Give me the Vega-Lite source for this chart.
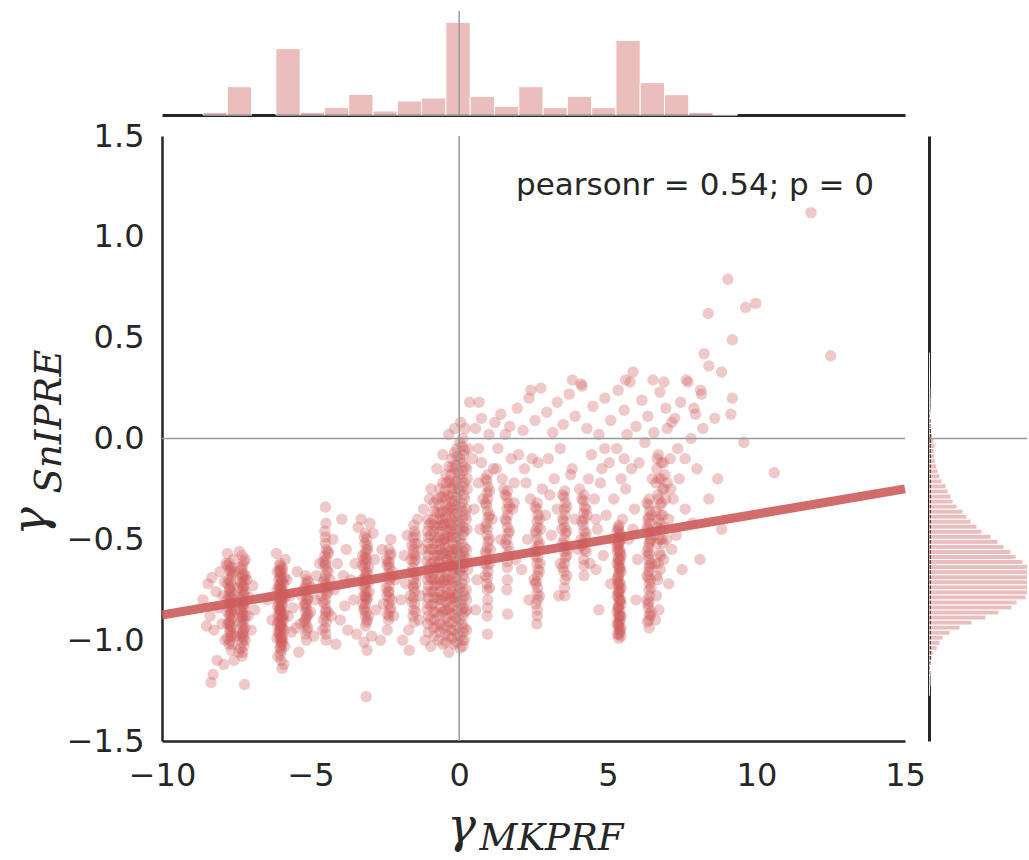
{
"$schema": "https://vega.github.io/schema/vega-lite/v6.json",
"background": "white",
"padding": {"left": 7, "top": 10, "right": 0, "bottom": 3},
"config": {
  "font": "DejaVu Sans",
  "view": {"stroke": null},
  "axis": {"grid": false, "ticks": false, "domainColor": "#262626", "domainWidth": 2.5, "labelColor": "#262626", "labelFont": "DejaVu Sans", "labelFontSize": 32, "labelFlush": false, "labelOverlap": false}
},
"title": {"text": "SnIPRE", "orient": "left", "anchor": "middle", "font": "DejaVu Serif", "fontStyle": "italic", "fontWeight": "normal", "fontSize": 37, "color": "#262626", "offset": -91, "baseline": "alphabetic", "dx": 12},
"columns": 2,
"spacing": {"row": 4, "column": 2},
"align": "each",
"datasets": {
  "ann": [{"label": "pearsonr = 0.54; p = 0"}],
  "fit": [{"mk": -10, "fit": -0.875}, {"mk": 15, "fit": -0.25}],
  "histx": [
    {"lo": -8.620, "hi": -7.803, "n": 8},
    {"lo": -7.803, "hi": -6.985, "n": 85},
    {"lo": -6.168, "hi": -5.351, "n": 199},
    {"lo": -5.351, "hi": -4.535, "n": 8},
    {"lo": -4.535, "hi": -3.717, "n": 22},
    {"lo": -3.717, "hi": -2.900, "n": 62},
    {"lo": -2.900, "hi": -2.083, "n": 12},
    {"lo": -2.083, "hi": -1.265, "n": 42},
    {"lo": -1.265, "hi": -0.448, "n": 51},
    {"lo": -0.448, "hi": 0.370, "n": 278},
    {"lo": 0.370, "hi": 1.187, "n": 56},
    {"lo": 1.187, "hi": 2.005, "n": 26},
    {"lo": 2.005, "hi": 2.822, "n": 85},
    {"lo": 2.822, "hi": 3.638, "n": 22},
    {"lo": 3.638, "hi": 4.456, "n": 56},
    {"lo": 4.456, "hi": 5.273, "n": 22},
    {"lo": 5.273, "hi": 6.090, "n": 224},
    {"lo": 6.090, "hi": 6.908, "n": 97},
    {"lo": 6.908, "hi": 7.725, "n": 61},
    {"lo": 7.725, "hi": 8.543, "n": 8},
    {"lo": 8.543, "hi": 9.361, "n": 1}
  ],
  "histy": [
    {"lo": -1.275, "hi": -1.250, "n": 3}, {"lo": -1.250, "hi": -1.225, "n": 5}, {"lo": -1.225, "hi": -1.200, "n": 10},
    {"lo": -1.200, "hi": -1.175, "n": 10}, {"lo": -1.175, "hi": -1.150, "n": 12}, {"lo": -1.150, "hi": -1.125, "n": 15},
    {"lo": -1.125, "hi": -1.100, "n": 20}, {"lo": -1.100, "hi": -1.075, "n": 30}, {"lo": -1.075, "hi": -1.050, "n": 45},
    {"lo": -1.050, "hi": -1.025, "n": 80}, {"lo": -1.025, "hi": -1.000, "n": 110}, {"lo": -1.000, "hi": -0.975, "n": 140},
    {"lo": -0.975, "hi": -0.950, "n": 210}, {"lo": -0.950, "hi": -0.925, "n": 310}, {"lo": -0.925, "hi": -0.900, "n": 430},
    {"lo": -0.900, "hi": -0.875, "n": 570}, {"lo": -0.875, "hi": -0.850, "n": 700}, {"lo": -0.850, "hi": -0.825, "n": 830},
    {"lo": -0.825, "hi": -0.800, "n": 880}, {"lo": -0.800, "hi": -0.775, "n": 970}, {"lo": -0.775, "hi": -0.750, "n": 1050},
    {"lo": -0.750, "hi": -0.725, "n": 1100}, {"lo": -0.725, "hi": -0.700, "n": 1130}, {"lo": -0.700, "hi": -0.675, "n": 1120},
    {"lo": -0.675, "hi": -0.650, "n": 1080}, {"lo": -0.650, "hi": -0.625, "n": 1010}, {"lo": -0.625, "hi": -0.600, "n": 940},
    {"lo": -0.600, "hi": -0.575, "n": 870}, {"lo": -0.575, "hi": -0.550, "n": 820}, {"lo": -0.550, "hi": -0.525, "n": 750},
    {"lo": -0.525, "hi": -0.500, "n": 690}, {"lo": -0.500, "hi": -0.475, "n": 620}, {"lo": -0.475, "hi": -0.450, "n": 530},
    {"lo": -0.450, "hi": -0.425, "n": 480}, {"lo": -0.425, "hi": -0.400, "n": 420}, {"lo": -0.400, "hi": -0.375, "n": 380},
    {"lo": -0.375, "hi": -0.350, "n": 340}, {"lo": -0.350, "hi": -0.325, "n": 280}, {"lo": -0.325, "hi": -0.300, "n": 240},
    {"lo": -0.300, "hi": -0.275, "n": 220}, {"lo": -0.275, "hi": -0.250, "n": 190}, {"lo": -0.250, "hi": -0.225, "n": 170},
    {"lo": -0.225, "hi": -0.200, "n": 130}, {"lo": -0.200, "hi": -0.175, "n": 110}, {"lo": -0.175, "hi": -0.150, "n": 90},
    {"lo": -0.150, "hi": -0.125, "n": 75}, {"lo": -0.125, "hi": -0.100, "n": 60}, {"lo": -0.100, "hi": -0.075, "n": 55},
    {"lo": -0.075, "hi": -0.050, "n": 55}, {"lo": -0.050, "hi": -0.025, "n": 60}, {"lo": -0.025, "hi": 0.000, "n": 50},
    {"lo": 0.000, "hi": 0.025, "n": 35}, {"lo": 0.025, "hi": 0.050, "n": 25}, {"lo": 0.050, "hi": 0.075, "n": 20},
    {"lo": 0.075, "hi": 0.100, "n": 20}, {"lo": 0.100, "hi": 0.125, "n": 15}, {"lo": 0.125, "hi": 0.150, "n": 12},
    {"lo": 0.150, "hi": 0.175, "n": 10}, {"lo": 0.175, "hi": 0.200, "n": 10}, {"lo": 0.200, "hi": 0.225, "n": 8},
    {"lo": 0.225, "hi": 0.250, "n": 8}, {"lo": 0.250, "hi": 0.275, "n": 6}, {"lo": 0.275, "hi": 0.300, "n": 6},
    {"lo": 0.300, "hi": 0.325, "n": 5}, {"lo": 0.325, "hi": 0.350, "n": 4}, {"lo": 0.350, "hi": 0.375, "n": 3},
    {"lo": 0.375, "hi": 0.400, "n": 3}, {"lo": 0.400, "hi": 0.425, "n": 3}
  ],
  "points": [
    {"mk":-7.74,"sn":-0.62},{"mk":-7.68,"sn":-0.64},{"mk":-7.71,"sn":-0.66},{"mk":-7.65,"sn":-0.68},{"mk":-7.76,"sn":-0.70},{"mk":-7.70,"sn":-0.71},{"mk":-7.66,"sn":-0.73},{"mk":-7.73,"sn":-0.75},{"mk":-7.69,"sn":-0.76},{"mk":-7.75,"sn":-0.78},{"mk":-7.64,"sn":-0.79},{"mk":-7.71,"sn":-0.81},{"mk":-7.68,"sn":-0.82},{"mk":-7.74,"sn":-0.84},{"mk":-7.66,"sn":-0.85},{"mk":-7.70,"sn":-0.87},{"mk":-7.72,"sn":-0.88},{"mk":-7.67,"sn":-0.90},{"mk":-7.75,"sn":-0.91},{"mk":-7.69,"sn":-0.93},{"mk":-7.65,"sn":-0.94},{"mk":-7.72,"sn":-0.96},{"mk":-7.68,"sn":-0.98},{"mk":-7.71,"sn":-1.00},{"mk":-7.74,"sn":-1.02},{"mk":-7.67,"sn":-1.05},
    {"mk":-7.80,"sn":-0.63},{"mk":-7.62,"sn":-0.67},{"mk":-7.79,"sn":-0.72},{"mk":-7.61,"sn":-0.77},{"mk":-7.81,"sn":-0.80},{"mk":-7.63,"sn":-0.83},{"mk":-7.80,"sn":-0.86},{"mk":-7.61,"sn":-0.89},{"mk":-7.79,"sn":-0.92},{"mk":-7.62,"sn":-0.97},{"mk":-7.80,"sn":-0.99},{"mk":-7.63,"sn":-1.02},{"mk":-7.70,"sn":-0.65},{"mk":-7.70,"sn":-0.79},{"mk":-7.70,"sn":-0.95},
    {"mk":-7.72,"sn":-0.74},{"mk":-7.66,"sn":-0.86},{"mk":-7.72,"sn":-0.92},{"mk":-7.26,"sn":-0.73},{"mk":-7.32,"sn":-0.88},{"mk":-7.26,"sn":-0.98},
    {"mk":-7.30,"sn":-0.58},{"mk":-7.25,"sn":-0.61},{"mk":-7.28,"sn":-0.63},{"mk":-7.32,"sn":-0.65},{"mk":-7.26,"sn":-0.67},{"mk":-7.29,"sn":-0.69},{"mk":-7.24,"sn":-0.70},{"mk":-7.31,"sn":-0.72},{"mk":-7.27,"sn":-0.74},{"mk":-7.30,"sn":-0.75},{"mk":-7.25,"sn":-0.77},{"mk":-7.28,"sn":-0.78},{"mk":-7.33,"sn":-0.80},{"mk":-7.26,"sn":-0.81},{"mk":-7.29,"sn":-0.83},{"mk":-7.24,"sn":-0.84},{"mk":-7.31,"sn":-0.86},{"mk":-7.27,"sn":-0.87},{"mk":-7.30,"sn":-0.89},{"mk":-7.25,"sn":-0.90},{"mk":-7.28,"sn":-0.92},{"mk":-7.32,"sn":-0.93},{"mk":-7.26,"sn":-0.95},{"mk":-7.29,"sn":-0.97},{"mk":-7.27,"sn":-0.99},{"mk":-7.30,"sn":-1.01},{"mk":-7.25,"sn":-1.03},{"mk":-7.28,"sn":-1.06},{"mk":-7.31,"sn":-1.08},
    {"mk":-7.20,"sn":-0.60},{"mk":-7.37,"sn":-0.64},{"mk":-7.19,"sn":-0.68},{"mk":-7.36,"sn":-0.71},{"mk":-7.21,"sn":-0.76},{"mk":-7.38,"sn":-0.79},{"mk":-7.20,"sn":-0.82},{"mk":-7.37,"sn":-0.85},{"mk":-7.19,"sn":-0.88},{"mk":-7.36,"sn":-0.91},{"mk":-7.21,"sn":-0.94},{"mk":-7.37,"sn":-0.98},{"mk":-7.20,"sn":-1.00},{"mk":-7.36,"sn":-1.04},{"mk":-7.28,"sn":-0.68},{"mk":-7.28,"sn":-0.82},{"mk":-7.28,"sn":-0.96},
    {"mk":-8.62,"sn":-0.80},{"mk":-8.45,"sn":-0.72},{"mk":-8.32,"sn":-0.69},{"mk":-8.38,"sn":-0.88},{"mk":-8.25,"sn":-0.95},{"mk":-8.18,"sn":-0.76},{"mk":-8.10,"sn":-0.84},{"mk":-8.05,"sn":-0.66},{"mk":-7.98,"sn":-0.92},{"mk":-7.95,"sn":-0.78},{"mk":-7.90,"sn":-0.71},{"mk":-7.88,"sn":-1.00},{"mk":-7.85,"sn":-0.62},{"mk":-8.35,"sn":-1.21},{"mk":-8.28,"sn":-1.17},{"mk":-8.15,"sn":-1.10},{"mk":-7.92,"sn":-1.12},{"mk":-7.80,"sn":-0.57},{"mk":-7.55,"sn":-0.66},{"mk":-7.50,"sn":-0.85},{"mk":-7.52,"sn":-0.98},{"mk":-7.45,"sn":-0.74},{"mk":-7.42,"sn":-1.06},{"mk":-7.15,"sn":-0.70},{"mk":-7.10,"sn":-0.88},{"mk":-7.05,"sn":-0.79},{"mk":-7.00,"sn":-0.95},{"mk":-6.95,"sn":-0.73},{"mk":-6.88,"sn":-0.85},{"mk":-7.22,"sn":-1.22},{"mk":-7.58,"sn":-1.10},{"mk":-8.50,"sn":-0.93},{"mk":-7.60,"sn":-0.60},{"mk":-7.40,"sn":-0.56},
    {"mk":-6.02,"sn":-0.62},{"mk":-5.97,"sn":-0.64},{"mk":-6.05,"sn":-0.66},{"mk":-5.99,"sn":-0.68},{"mk":-6.03,"sn":-0.69},{"mk":-5.96,"sn":-0.71},{"mk":-6.01,"sn":-0.72},{"mk":-6.06,"sn":-0.74},{"mk":-5.98,"sn":-0.75},{"mk":-6.02,"sn":-0.77},{"mk":-5.95,"sn":-0.78},{"mk":-6.04,"sn":-0.80},{"mk":-6.00,"sn":-0.81},{"mk":-5.97,"sn":-0.83},{"mk":-6.03,"sn":-0.84},{"mk":-5.99,"sn":-0.86},{"mk":-6.05,"sn":-0.87},{"mk":-6.01,"sn":-0.89},{"mk":-5.96,"sn":-0.90},{"mk":-6.02,"sn":-0.92},{"mk":-5.98,"sn":-0.93},{"mk":-6.04,"sn":-0.95},{"mk":-6.00,"sn":-0.96},{"mk":-5.97,"sn":-0.98},{"mk":-6.03,"sn":-0.99},{"mk":-5.99,"sn":-1.01},{"mk":-6.01,"sn":-1.03},{"mk":-5.98,"sn":-1.05},{"mk":-6.02,"sn":-1.07},{"mk":-6.00,"sn":-1.10},{"mk":-5.96,"sn":-1.14},
    {"mk":-5.94,"sn":-0.65},{"mk":-6.07,"sn":-0.70},{"mk":-5.93,"sn":-0.76},{"mk":-6.08,"sn":-0.79},{"mk":-5.95,"sn":-0.82},{"mk":-6.06,"sn":-0.85},{"mk":-5.94,"sn":-0.88},{"mk":-6.07,"sn":-0.91},{"mk":-5.95,"sn":-0.94},{"mk":-6.05,"sn":-0.97},{"mk":-5.93,"sn":-1.00},{"mk":-6.06,"sn":-0.73},{"mk":-6.04,"sn":-0.63},{"mk":-5.96,"sn":-1.02},
    {"mk":-6.12,"sn":-0.66},{"mk":-5.88,"sn":-0.69},{"mk":-6.13,"sn":-0.75},{"mk":-5.87,"sn":-0.79},{"mk":-6.11,"sn":-0.83},{"mk":-5.89,"sn":-0.87},{"mk":-6.12,"sn":-0.92},{"mk":-5.88,"sn":-0.95},{"mk":-6.13,"sn":-0.99},{"mk":-5.87,"sn":-1.03},{"mk":-6.00,"sn":-0.66},{"mk":-6.00,"sn":-0.74},{"mk":-6.00,"sn":-0.85},{"mk":-6.00,"sn":-0.93},{"mk":-6.00,"sn":-1.00},{"mk":-5.91,"sn":-0.72},{"mk":-6.09,"sn":-0.81},{"mk":-5.91,"sn":-0.90},{"mk":-6.09,"sn":-0.96},
    {"mk":-6.03,"sn":-0.65},{"mk":-5.97,"sn":-0.70},{"mk":-6.03,"sn":-0.75},{"mk":-5.97,"sn":-0.80},{"mk":-6.03,"sn":-0.85},{"mk":-5.97,"sn":-0.89},{"mk":-6.03,"sn":-0.94},{"mk":-5.97,"sn":-0.99},{"mk":-6.03,"sn":-1.04},{"mk":-6.10,"sn":-0.88},{"mk":-5.90,"sn":-0.78},
    {"mk":-6.45,"sn":-0.80},{"mk":-6.30,"sn":-0.90},{"mk":-5.80,"sn":-0.70},{"mk":-5.75,"sn":-0.88},{"mk":-5.70,"sn":-0.78},{"mk":-5.65,"sn":-0.96},{"mk":-5.85,"sn":-0.60},{"mk":-6.15,"sn":-0.57},{"mk":-5.90,"sn":-1.12},{"mk":-6.10,"sn":-1.08},{"mk":-5.60,"sn":-0.84},
    {"mk":-5.17,"sn":-0.68},{"mk":-5.12,"sn":-0.70},{"mk":-5.15,"sn":-0.72},{"mk":-5.19,"sn":-0.74},{"mk":-5.13,"sn":-0.76},{"mk":-5.16,"sn":-0.78},{"mk":-5.11,"sn":-0.80},{"mk":-5.18,"sn":-0.82},{"mk":-5.14,"sn":-0.84},{"mk":-5.16,"sn":-0.86},{"mk":-5.12,"sn":-0.88},{"mk":-5.19,"sn":-0.90},{"mk":-5.15,"sn":-0.92},{"mk":-5.13,"sn":-0.95},{"mk":-5.17,"sn":-0.97},{"mk":-5.14,"sn":-1.00},{"mk":-5.30,"sn":-0.78},{"mk":-5.00,"sn":-0.86},{"mk":-5.35,"sn":-0.92},{"mk":-4.95,"sn":-0.74},
    {"mk":-5.08,"sn":-0.71},{"mk":-5.22,"sn":-0.75},{"mk":-5.09,"sn":-0.79},{"mk":-5.23,"sn":-0.83},{"mk":-5.08,"sn":-0.87},{"mk":-5.22,"sn":-0.91},{"mk":-5.09,"sn":-0.94},{"mk":-5.15,"sn":-0.82},{"mk":-5.15,"sn":-0.89},
    {"mk":-5.45,"sn":-0.66},{"mk":-5.50,"sn":-0.94},{"mk":-4.85,"sn":-0.80},{"mk":-4.80,"sn":-0.68},{"mk":-5.40,"sn":-1.06},{"mk":-4.90,"sn":-0.98},
    {"mk":-4.50,"sn":-0.52},{"mk":-4.47,"sn":-0.55},{"mk":-4.52,"sn":-0.58},{"mk":-4.48,"sn":-0.60},{"mk":-4.51,"sn":-0.63},{"mk":-4.46,"sn":-0.65},{"mk":-4.50,"sn":-0.68},{"mk":-4.53,"sn":-0.70},{"mk":-4.48,"sn":-0.72},{"mk":-4.51,"sn":-0.75},{"mk":-4.47,"sn":-0.77},{"mk":-4.50,"sn":-0.80},{"mk":-4.52,"sn":-0.82},{"mk":-4.48,"sn":-0.85},{"mk":-4.50,"sn":-0.88},{"mk":-4.47,"sn":-0.91},{"mk":-4.51,"sn":-0.94},{"mk":-4.49,"sn":-0.97},{"mk":-4.48,"sn":-1.00},{"mk":-4.52,"sn":-0.46},{"mk":-4.48,"sn":-0.42},{"mk":-4.50,"sn":-0.34},{"mk":-4.35,"sn":-0.70},{"mk":-4.65,"sn":-0.78},{"mk":-4.30,"sn":-0.88},{"mk":-4.70,"sn":-0.62},{"mk":-4.60,"sn":-0.95},{"mk":-4.40,"sn":-0.57},
    {"mk":-4.42,"sn":-0.56},{"mk":-4.58,"sn":-0.61},{"mk":-4.41,"sn":-0.66},{"mk":-4.57,"sn":-0.71},{"mk":-4.42,"sn":-0.76},{"mk":-4.58,"sn":-0.81},{"mk":-4.41,"sn":-0.86},{"mk":-4.57,"sn":-0.90},{"mk":-4.50,"sn":-0.62},{"mk":-4.50,"sn":-0.74},{"mk":-4.50,"sn":-0.86},{"mk":-4.50,"sn":-0.49},
    {"mk":-4.20,"sn":-0.75},{"mk":-4.10,"sn":-0.62},{"mk":-4.00,"sn":-0.90},{"mk":-3.90,"sn":-0.68},{"mk":-3.85,"sn":-0.83},{"mk":-4.15,"sn":-1.02},{"mk":-3.80,"sn":-0.55},{"mk":-3.95,"sn":-0.40},{"mk":-4.25,"sn":-0.50},{"mk":-3.75,"sn":-0.95},
    {"mk":-3.15,"sn":-0.47},{"mk":-3.12,"sn":-0.50},{"mk":-3.17,"sn":-0.52},{"mk":-3.13,"sn":-0.55},{"mk":-3.16,"sn":-0.57},{"mk":-3.11,"sn":-0.60},{"mk":-3.15,"sn":-0.62},{"mk":-3.18,"sn":-0.64},{"mk":-3.13,"sn":-0.66},{"mk":-3.16,"sn":-0.68},{"mk":-3.12,"sn":-0.70},{"mk":-3.15,"sn":-0.72},{"mk":-3.17,"sn":-0.74},{"mk":-3.13,"sn":-0.76},{"mk":-3.16,"sn":-0.78},{"mk":-3.12,"sn":-0.80},{"mk":-3.15,"sn":-0.82},{"mk":-3.18,"sn":-0.84},{"mk":-3.14,"sn":-0.86},{"mk":-3.16,"sn":-0.88},{"mk":-3.12,"sn":-0.91},{"mk":-3.15,"sn":-0.93},
    {"mk":-3.25,"sn":-0.58},{"mk":-3.05,"sn":-0.64},{"mk":-3.27,"sn":-0.70},{"mk":-3.03,"sn":-0.76},{"mk":-3.24,"sn":-0.82},{"mk":-3.06,"sn":-0.88},{"mk":-3.26,"sn":-0.63},{"mk":-3.04,"sn":-0.71},{"mk":-3.22,"sn":-0.78},{"mk":-3.08,"sn":-0.55},
    {"mk":-3.20,"sn":-0.49},{"mk":-3.09,"sn":-0.53},{"mk":-3.21,"sn":-0.60},{"mk":-3.09,"sn":-0.67},{"mk":-3.20,"sn":-0.73},{"mk":-3.08,"sn":-0.79},{"mk":-3.21,"sn":-0.85},{"mk":-3.09,"sn":-0.90},{"mk":-3.15,"sn":-0.59},{"mk":-3.15,"sn":-0.69},{"mk":-3.15,"sn":-0.79},
    {"mk":-3.40,"sn":-0.44},{"mk":-3.50,"sn":-0.62},{"mk":-3.55,"sn":-0.80},{"mk":-3.45,"sn":-0.97},{"mk":-2.95,"sn":-0.98},{"mk":-2.85,"sn":-0.60},{"mk":-2.90,"sn":-0.47},{"mk":-3.10,"sn":-1.05},{"mk":-3.20,"sn":-1.01},{"mk":-3.13,"sn":-1.28},{"mk":-3.65,"sn":-0.70},{"mk":-2.80,"sn":-0.85},{"mk":-3.30,"sn":-0.40},{"mk":-3.00,"sn":-0.42},
    {"mk":-2.36,"sn":-0.55},{"mk":-2.33,"sn":-0.58},{"mk":-2.38,"sn":-0.61},{"mk":-2.35,"sn":-0.64},{"mk":-2.37,"sn":-0.67},{"mk":-2.34,"sn":-0.70},{"mk":-2.36,"sn":-0.73},{"mk":-2.39,"sn":-0.76},{"mk":-2.35,"sn":-0.79},{"mk":-2.37,"sn":-0.82},{"mk":-2.34,"sn":-0.85},{"mk":-2.36,"sn":-0.88},{"mk":-2.38,"sn":-0.90},{"mk":-2.25,"sn":-0.66},{"mk":-2.46,"sn":-0.74},{"mk":-2.27,"sn":-0.80},{"mk":-2.45,"sn":-0.60},{"mk":-2.30,"sn":-0.50},{"mk":-2.42,"sn":-0.95},{"mk":-2.20,"sn":-0.88},{"mk":-2.55,"sn":-0.82},{"mk":-2.60,"sn":-0.55},{"mk":-2.15,"sn":-0.70},{"mk":-2.65,"sn":-1.00},
    {"mk":-2.29,"sn":-0.57},{"mk":-2.43,"sn":-0.63},{"mk":-2.29,"sn":-0.69},{"mk":-2.43,"sn":-0.78},{"mk":-2.30,"sn":-0.84},{"mk":-2.42,"sn":-0.87},{"mk":-2.36,"sn":-0.62},{"mk":-2.36,"sn":-0.76},
    {"mk":-1.53,"sn":-0.43},{"mk":-1.50,"sn":-0.46},{"mk":-1.55,"sn":-0.49},{"mk":-1.51,"sn":-0.52},{"mk":-1.54,"sn":-0.55},{"mk":-1.49,"sn":-0.58},{"mk":-1.53,"sn":-0.61},{"mk":-1.56,"sn":-0.64},{"mk":-1.50,"sn":-0.67},{"mk":-1.53,"sn":-0.70},{"mk":-1.55,"sn":-0.73},{"mk":-1.51,"sn":-0.76},{"mk":-1.54,"sn":-0.79},{"mk":-1.50,"sn":-0.82},{"mk":-1.53,"sn":-0.85},{"mk":-1.56,"sn":-0.88},{"mk":-1.52,"sn":-0.91},{"mk":-1.62,"sn":-0.60},{"mk":-1.44,"sn":-0.68},{"mk":-1.64,"sn":-0.78},{"mk":-1.42,"sn":-0.52},{"mk":-1.70,"sn":-0.95},{"mk":-1.80,"sn":-0.72},{"mk":-1.85,"sn":-0.58},{"mk":-1.75,"sn":-0.48},{"mk":-1.95,"sn":-0.80},{"mk":-1.90,"sn":-1.00},{"mk":-1.68,"sn":-1.05},
    {"mk":-1.46,"sn":-0.48},{"mk":-1.60,"sn":-0.53},{"mk":-1.46,"sn":-0.60},{"mk":-1.59,"sn":-0.66},{"mk":-1.47,"sn":-0.72},{"mk":-1.60,"sn":-0.81},{"mk":-1.47,"sn":-0.86},{"mk":-1.53,"sn":-0.57},{"mk":-1.53,"sn":-0.74},
    {"mk":-1.05,"sn":-0.40},{"mk":-1.02,"sn":-0.43},{"mk":-1.07,"sn":-0.46},{"mk":-1.04,"sn":-0.49},{"mk":-1.06,"sn":-0.52},{"mk":-1.03,"sn":-0.55},{"mk":-1.05,"sn":-0.58},{"mk":-1.08,"sn":-0.61},{"mk":-1.02,"sn":-0.64},{"mk":-1.05,"sn":-0.67},{"mk":-1.07,"sn":-0.70},{"mk":-1.03,"sn":-0.73},{"mk":-1.06,"sn":-0.76},{"mk":-1.04,"sn":-0.79},{"mk":-1.05,"sn":-0.82},{"mk":-1.08,"sn":-0.85},{"mk":-1.03,"sn":-0.88},{"mk":-1.06,"sn":-0.92},{"mk":-1.04,"sn":-0.96},
    {"mk":-0.95,"sn":-0.42},{"mk":-0.96,"sn":-0.48},{"mk":-0.94,"sn":-0.55},{"mk":-0.95,"sn":-0.62},{"mk":-0.97,"sn":-0.69},{"mk":-0.94,"sn":-0.76},{"mk":-0.95,"sn":-0.83},{"mk":-0.96,"sn":-0.90},
    {"mk":-0.85,"sn":-0.32},{"mk":-0.83,"sn":-0.36},{"mk":-0.87,"sn":-0.40},{"mk":-0.84,"sn":-0.43},{"mk":-0.86,"sn":-0.46},{"mk":-0.82,"sn":-0.49},{"mk":-0.85,"sn":-0.52},{"mk":-0.88,"sn":-0.55},{"mk":-0.83,"sn":-0.58},{"mk":-0.86,"sn":-0.61},{"mk":-0.84,"sn":-0.64},{"mk":-0.87,"sn":-0.67},{"mk":-0.85,"sn":-0.70},{"mk":-0.82,"sn":-0.73},{"mk":-0.86,"sn":-0.76},{"mk":-0.84,"sn":-0.79},{"mk":-0.87,"sn":-0.82},{"mk":-0.85,"sn":-0.86},{"mk":-0.83,"sn":-0.90},{"mk":-0.86,"sn":-0.94},{"mk":-0.84,"sn":-0.98},
    {"mk":-0.75,"sn":-0.30},{"mk":-0.74,"sn":-0.37},{"mk":-0.76,"sn":-0.44},{"mk":-0.75,"sn":-0.51},{"mk":-0.73,"sn":-0.58},{"mk":-0.76,"sn":-0.65},{"mk":-0.75,"sn":-0.72},{"mk":-0.74,"sn":-0.79},{"mk":-0.76,"sn":-0.86},{"mk":-0.75,"sn":-0.93},
    {"mk":-0.65,"sn":-0.25},{"mk":-0.63,"sn":-0.29},{"mk":-0.67,"sn":-0.33},{"mk":-0.64,"sn":-0.37},{"mk":-0.66,"sn":-0.40},{"mk":-0.62,"sn":-0.43},{"mk":-0.65,"sn":-0.46},{"mk":-0.68,"sn":-0.49},{"mk":-0.63,"sn":-0.52},{"mk":-0.66,"sn":-0.55},{"mk":-0.64,"sn":-0.58},{"mk":-0.67,"sn":-0.61},{"mk":-0.65,"sn":-0.64},{"mk":-0.62,"sn":-0.67},{"mk":-0.66,"sn":-0.70},{"mk":-0.64,"sn":-0.73},{"mk":-0.67,"sn":-0.76},{"mk":-0.65,"sn":-0.80},{"mk":-0.63,"sn":-0.84},{"mk":-0.66,"sn":-0.88},{"mk":-0.64,"sn":-0.92},{"mk":-0.66,"sn":-0.96},
    {"mk":-0.55,"sn":-0.22},{"mk":-0.54,"sn":-0.29},{"mk":-0.56,"sn":-0.36},{"mk":-0.55,"sn":-0.43},{"mk":-0.53,"sn":-0.50},{"mk":-0.56,"sn":-0.57},{"mk":-0.55,"sn":-0.64},{"mk":-0.54,"sn":-0.71},{"mk":-0.56,"sn":-0.78},{"mk":-0.55,"sn":-0.86},{"mk":-0.54,"sn":-0.94},
    {"mk":-0.45,"sn":-0.18},{"mk":-0.43,"sn":-0.22},{"mk":-0.47,"sn":-0.26},{"mk":-0.44,"sn":-0.30},{"mk":-0.46,"sn":-0.33},{"mk":-0.42,"sn":-0.36},{"mk":-0.45,"sn":-0.39},{"mk":-0.48,"sn":-0.42},{"mk":-0.43,"sn":-0.45},{"mk":-0.46,"sn":-0.48},{"mk":-0.44,"sn":-0.51},{"mk":-0.47,"sn":-0.54},{"mk":-0.45,"sn":-0.57},{"mk":-0.42,"sn":-0.60},{"mk":-0.46,"sn":-0.63},{"mk":-0.44,"sn":-0.66},{"mk":-0.47,"sn":-0.69},{"mk":-0.45,"sn":-0.72},{"mk":-0.43,"sn":-0.75},{"mk":-0.46,"sn":-0.78},{"mk":-0.44,"sn":-0.81},{"mk":-0.47,"sn":-0.85},{"mk":-0.45,"sn":-0.89},{"mk":-0.43,"sn":-0.93},{"mk":-0.46,"sn":-0.97},{"mk":-0.44,"sn":-1.01},
    {"mk":-0.35,"sn":-0.14},{"mk":-0.34,"sn":-0.21},{"mk":-0.36,"sn":-0.28},{"mk":-0.35,"sn":-0.35},{"mk":-0.33,"sn":-0.42},{"mk":-0.36,"sn":-0.49},{"mk":-0.35,"sn":-0.56},{"mk":-0.34,"sn":-0.63},{"mk":-0.36,"sn":-0.70},{"mk":-0.35,"sn":-0.77},{"mk":-0.34,"sn":-0.84},{"mk":-0.36,"sn":-0.91},{"mk":-0.35,"sn":-0.98},
    {"mk":-0.25,"sn":-0.10},{"mk":-0.23,"sn":-0.14},{"mk":-0.27,"sn":-0.18},{"mk":-0.24,"sn":-0.22},{"mk":-0.26,"sn":-0.25},{"mk":-0.22,"sn":-0.28},{"mk":-0.25,"sn":-0.31},{"mk":-0.28,"sn":-0.34},{"mk":-0.23,"sn":-0.37},{"mk":-0.26,"sn":-0.40},{"mk":-0.24,"sn":-0.43},{"mk":-0.27,"sn":-0.46},{"mk":-0.25,"sn":-0.49},{"mk":-0.22,"sn":-0.52},{"mk":-0.26,"sn":-0.55},{"mk":-0.24,"sn":-0.58},{"mk":-0.27,"sn":-0.61},{"mk":-0.25,"sn":-0.64},{"mk":-0.23,"sn":-0.67},{"mk":-0.26,"sn":-0.70},{"mk":-0.24,"sn":-0.73},{"mk":-0.27,"sn":-0.76},{"mk":-0.25,"sn":-0.79},{"mk":-0.23,"sn":-0.83},{"mk":-0.26,"sn":-0.87},{"mk":-0.24,"sn":-0.91},{"mk":-0.27,"sn":-0.95},{"mk":-0.25,"sn":-0.99},
    {"mk":-0.16,"sn":-0.07},{"mk":-0.15,"sn":-0.15},{"mk":-0.17,"sn":-0.23},{"mk":-0.16,"sn":-0.31},{"mk":-0.14,"sn":-0.39},{"mk":-0.17,"sn":-0.47},{"mk":-0.16,"sn":-0.55},{"mk":-0.15,"sn":-0.63},{"mk":-0.17,"sn":-0.71},{"mk":-0.16,"sn":-0.79},{"mk":-0.15,"sn":-0.87},{"mk":-0.17,"sn":-0.95},{"mk":-0.16,"sn":-1.02},
    {"mk":-0.08,"sn":-0.05},{"mk":-0.06,"sn":-0.09},{"mk":-0.10,"sn":-0.13},{"mk":-0.07,"sn":-0.17},{"mk":-0.09,"sn":-0.21},{"mk":-0.05,"sn":-0.25},{"mk":-0.08,"sn":-0.29},{"mk":-0.11,"sn":-0.33},{"mk":-0.06,"sn":-0.37},{"mk":-0.09,"sn":-0.41},{"mk":-0.07,"sn":-0.45},{"mk":-0.10,"sn":-0.49},{"mk":-0.08,"sn":-0.53},{"mk":-0.05,"sn":-0.57},{"mk":-0.09,"sn":-0.61},{"mk":-0.07,"sn":-0.65},{"mk":-0.10,"sn":-0.69},{"mk":-0.08,"sn":-0.73},{"mk":-0.06,"sn":-0.77},{"mk":-0.09,"sn":-0.81},{"mk":-0.07,"sn":-0.85},{"mk":-0.10,"sn":-0.89},{"mk":-0.08,"sn":-0.93},{"mk":-0.06,"sn":-0.97},{"mk":-0.09,"sn":-1.01},
    {"mk":0.02,"sn":-0.02},{"mk":0.03,"sn":-0.10},{"mk":0.01,"sn":-0.18},{"mk":0.02,"sn":-0.26},{"mk":0.04,"sn":-0.34},{"mk":0.01,"sn":-0.42},{"mk":0.02,"sn":-0.50},{"mk":0.03,"sn":-0.58},{"mk":0.01,"sn":-0.66},{"mk":0.02,"sn":-0.74},{"mk":0.04,"sn":-0.82},{"mk":0.01,"sn":-0.90},{"mk":0.02,"sn":-0.98},{"mk":0.03,"sn":-1.04},
    {"mk":0.12,"sn":0.00},{"mk":0.10,"sn":-0.04},{"mk":0.14,"sn":-0.08},{"mk":0.11,"sn":-0.12},{"mk":0.13,"sn":-0.16},{"mk":0.09,"sn":-0.20},{"mk":0.12,"sn":-0.24},{"mk":0.15,"sn":-0.28},{"mk":0.10,"sn":-0.32},{"mk":0.13,"sn":-0.36},{"mk":0.11,"sn":-0.40},{"mk":0.14,"sn":-0.44},{"mk":0.12,"sn":-0.48},{"mk":0.09,"sn":-0.52},{"mk":0.13,"sn":-0.56},{"mk":0.11,"sn":-0.60},{"mk":0.14,"sn":-0.64},{"mk":0.12,"sn":-0.68},{"mk":0.10,"sn":-0.72},{"mk":0.13,"sn":-0.76},{"mk":0.11,"sn":-0.80},{"mk":0.14,"sn":-0.84},{"mk":0.12,"sn":-0.88},{"mk":0.10,"sn":-0.92},{"mk":0.13,"sn":-0.96},{"mk":0.11,"sn":-1.00},{"mk":0.12,"sn":-1.03},
    {"mk":0.18,"sn":-0.06},{"mk":0.19,"sn":-0.14},{"mk":0.17,"sn":-0.22},{"mk":0.18,"sn":-0.30},{"mk":0.20,"sn":-0.38},{"mk":0.17,"sn":-0.46},{"mk":0.18,"sn":-0.54},{"mk":0.19,"sn":-0.62},{"mk":0.17,"sn":-0.70},{"mk":0.18,"sn":-0.78},{"mk":0.20,"sn":-0.86},{"mk":0.17,"sn":-0.94},{"mk":0.18,"sn":-1.00},
    {"mk":0.25,"sn":-0.15},{"mk":0.27,"sn":-0.25},{"mk":0.24,"sn":-0.35},{"mk":0.26,"sn":-0.45},{"mk":0.25,"sn":-0.55},{"mk":0.28,"sn":-0.65},{"mk":0.24,"sn":-0.75},{"mk":0.26,"sn":-0.85},{"mk":0.25,"sn":-0.95},{"mk":0.27,"sn":-0.20},{"mk":0.24,"sn":-0.40},{"mk":0.26,"sn":-0.60},{"mk":0.25,"sn":-0.80},
    {"mk":-0.55,"sn":-0.40},{"mk":-0.60,"sn":-0.55},{"mk":-0.50,"sn":-0.70},{"mk":-0.40,"sn":-0.60},{"mk":-0.30,"sn":-0.45},{"mk":-0.20,"sn":-0.65},{"mk":-0.10,"sn":-0.55},{"mk":0.05,"sn":-0.45},{"mk":0.05,"sn":-0.65},{"mk":-0.30,"sn":-0.80},{"mk":-0.20,"sn":-0.35},{"mk":-0.40,"sn":-0.85},{"mk":0.15,"sn":-0.58},{"mk":-0.70,"sn":-0.62},{"mk":-0.90,"sn":-0.70},{"mk":-0.60,"sn":-0.80},{"mk":-0.12,"sn":-0.78},{"mk":0.08,"sn":-0.85},{"mk":-0.28,"sn":-0.58},{"mk":-0.48,"sn":-0.50},
    {"mk":-1.25,"sn":-0.55},{"mk":-1.30,"sn":-0.78},{"mk":-1.20,"sn":-0.35},{"mk":-1.35,"sn":-0.90},{"mk":-0.95,"sn":-0.25},{"mk":-0.75,"sn":-0.15},{"mk":-0.55,"sn":-0.08},{"mk":-0.35,"sn":0.02},{"mk":-0.15,"sn":0.05},{"mk":-1.15,"sn":-1.00},{"mk":-0.55,"sn":-1.02},{"mk":-0.35,"sn":-1.06},{"mk":-0.95,"sn":-1.03},{"mk":0.05,"sn":0.08},{"mk":0.20,"sn":0.05},{"mk":-0.70,"sn":-1.00},{"mk":-1.40,"sn":-0.40},{"mk":-1.00,"sn":-0.30},
    {"mk":0.95,"sn":-0.18},{"mk":0.93,"sn":-0.21},{"mk":0.97,"sn":-0.24},{"mk":0.94,"sn":-0.27},{"mk":0.96,"sn":-0.30},{"mk":0.92,"sn":-0.33},{"mk":0.95,"sn":-0.36},{"mk":0.98,"sn":-0.39},{"mk":0.93,"sn":-0.42},{"mk":0.96,"sn":-0.45},{"mk":0.94,"sn":-0.48},{"mk":0.97,"sn":-0.51},{"mk":0.95,"sn":-0.54},{"mk":0.92,"sn":-0.57},{"mk":0.96,"sn":-0.60},{"mk":0.94,"sn":-0.63},{"mk":0.97,"sn":-0.66},{"mk":0.95,"sn":-0.69},{"mk":0.93,"sn":-0.72},{"mk":0.96,"sn":-0.80},{"mk":0.94,"sn":-0.88},{"mk":0.95,"sn":-0.97},{"mk":0.80,"sn":-0.30},{"mk":0.70,"sn":-0.45},{"mk":0.85,"sn":-0.62},{"mk":0.65,"sn":-0.22},{"mk":1.10,"sn":-0.40},{"mk":1.05,"sn":-0.55},{"mk":0.60,"sn":-0.70},{"mk":0.75,"sn":-0.12},{"mk":0.50,"sn":-0.35},{"mk":0.55,"sn":-0.85},{"mk":1.15,"sn":-0.15},
    {"mk":0.88,"sn":-0.20},{"mk":1.02,"sn":-0.26},{"mk":0.88,"sn":-0.32},{"mk":1.02,"sn":-0.38},{"mk":0.88,"sn":-0.44},{"mk":1.02,"sn":-0.50},{"mk":0.88,"sn":-0.56},{"mk":1.02,"sn":-0.62},{"mk":0.88,"sn":-0.68},{"mk":1.02,"sn":-0.74},{"mk":0.95,"sn":-0.75},{"mk":0.95,"sn":-0.84},
    {"mk":1.62,"sn":-0.26},{"mk":1.60,"sn":-0.29},{"mk":1.64,"sn":-0.32},{"mk":1.61,"sn":-0.35},{"mk":1.63,"sn":-0.38},{"mk":1.59,"sn":-0.41},{"mk":1.62,"sn":-0.44},{"mk":1.65,"sn":-0.47},{"mk":1.60,"sn":-0.50},{"mk":1.63,"sn":-0.53},{"mk":1.61,"sn":-0.58},{"mk":1.62,"sn":-0.64},{"mk":1.60,"sn":-0.75},{"mk":1.63,"sn":-0.87},{"mk":1.45,"sn":-0.20},{"mk":1.80,"sn":-0.35},{"mk":1.75,"sn":-0.10},{"mk":1.40,"sn":-0.50},{"mk":1.90,"sn":-0.60},{"mk":1.30,"sn":-0.05},{"mk":1.55,"sn":0.02},{"mk":1.85,"sn":-0.22},
    {"mk":1.55,"sn":-0.28},{"mk":1.69,"sn":-0.34},{"mk":1.55,"sn":-0.40},{"mk":1.69,"sn":-0.46},{"mk":1.55,"sn":-0.52},{"mk":1.69,"sn":-0.56},{"mk":1.62,"sn":-0.61},{"mk":1.62,"sn":-0.70},
    {"mk":2.63,"sn":-0.32},{"mk":2.61,"sn":-0.35},{"mk":2.65,"sn":-0.38},{"mk":2.62,"sn":-0.41},{"mk":2.64,"sn":-0.44},{"mk":2.60,"sn":-0.47},{"mk":2.63,"sn":-0.50},{"mk":2.66,"sn":-0.53},{"mk":2.61,"sn":-0.56},{"mk":2.64,"sn":-0.59},{"mk":2.62,"sn":-0.62},{"mk":2.65,"sn":-0.65},{"mk":2.63,"sn":-0.68},{"mk":2.60,"sn":-0.71},{"mk":2.64,"sn":-0.74},{"mk":2.62,"sn":-0.77},{"mk":2.65,"sn":-0.80},{"mk":2.63,"sn":-0.85},{"mk":2.61,"sn":-0.92},{"mk":2.55,"sn":-0.55},{"mk":2.72,"sn":-0.62},{"mk":2.52,"sn":-0.70},{"mk":2.74,"sn":-0.45},{"mk":2.40,"sn":-0.30},{"mk":2.30,"sn":-0.50},{"mk":2.20,"sn":-0.15},{"mk":2.45,"sn":-0.10},{"mk":2.80,"sn":-0.25},{"mk":2.35,"sn":-0.80},{"mk":2.10,"sn":-0.65},
    {"mk":2.56,"sn":-0.34},{"mk":2.70,"sn":-0.40},{"mk":2.56,"sn":-0.46},{"mk":2.70,"sn":-0.52},{"mk":2.56,"sn":-0.58},{"mk":2.70,"sn":-0.66},{"mk":2.56,"sn":-0.72},{"mk":2.70,"sn":-0.78},{"mk":2.63,"sn":-0.88},{"mk":2.58,"sn":-0.82},
    {"mk":3.55,"sn":-0.26},{"mk":3.53,"sn":-0.29},{"mk":3.57,"sn":-0.32},{"mk":3.54,"sn":-0.35},{"mk":3.56,"sn":-0.38},{"mk":3.52,"sn":-0.41},{"mk":3.55,"sn":-0.44},{"mk":3.58,"sn":-0.47},{"mk":3.53,"sn":-0.50},{"mk":3.56,"sn":-0.53},{"mk":3.54,"sn":-0.56},{"mk":3.57,"sn":-0.59},{"mk":3.55,"sn":-0.62},{"mk":3.53,"sn":-0.66},{"mk":3.56,"sn":-0.70},{"mk":3.54,"sn":-0.74},{"mk":3.45,"sn":-0.45},{"mk":3.65,"sn":-0.55},{"mk":3.40,"sn":-0.62},{"mk":3.30,"sn":-0.35},{"mk":3.20,"sn":-0.20},{"mk":3.10,"sn":-0.48},{"mk":3.00,"sn":-0.10},{"mk":3.35,"sn":-0.78},
    {"mk":3.48,"sn":-0.28},{"mk":3.62,"sn":-0.34},{"mk":3.48,"sn":-0.40},{"mk":3.62,"sn":-0.46},{"mk":3.48,"sn":-0.52},{"mk":3.62,"sn":-0.58},{"mk":3.48,"sn":-0.64},{"mk":3.62,"sn":-0.68},{"mk":3.55,"sn":-0.78},
    {"mk":4.20,"sn":-0.28},{"mk":4.18,"sn":-0.31},{"mk":4.22,"sn":-0.34},{"mk":4.19,"sn":-0.37},{"mk":4.21,"sn":-0.40},{"mk":4.17,"sn":-0.43},{"mk":4.20,"sn":-0.46},{"mk":4.23,"sn":-0.49},{"mk":4.18,"sn":-0.52},{"mk":4.21,"sn":-0.55},{"mk":4.19,"sn":-0.60},{"mk":4.20,"sn":-0.68},{"mk":4.30,"sn":-0.38},{"mk":4.10,"sn":-0.50},{"mk":4.35,"sn":-0.20},{"mk":4.05,"sn":-0.25},{"mk":4.40,"sn":-0.62},{"mk":3.90,"sn":-0.40},{"mk":4.00,"sn":-0.55},{"mk":3.80,"sn":-0.15},
    {"mk":4.13,"sn":-0.30},{"mk":4.27,"sn":-0.35},{"mk":4.13,"sn":-0.41},{"mk":4.27,"sn":-0.47},{"mk":4.13,"sn":-0.53},{"mk":4.27,"sn":-0.56},{"mk":4.20,"sn":-0.63},
    {"mk":4.55,"sn":-0.30},{"mk":4.65,"sn":-0.45},{"mk":4.75,"sn":-0.22},{"mk":4.85,"sn":-0.58},{"mk":4.95,"sn":-0.38},{"mk":5.05,"sn":-0.12},{"mk":5.15,"sn":-0.50},{"mk":4.60,"sn":-0.65},{"mk":4.90,"sn":-0.05},{"mk":5.10,"sn":-0.72},{"mk":4.70,"sn":-0.85},{"mk":5.20,"sn":-0.30},
    {"mk":5.38,"sn":-0.43},{"mk":5.36,"sn":-0.45},{"mk":5.40,"sn":-0.47},{"mk":5.37,"sn":-0.49},{"mk":5.39,"sn":-0.51},{"mk":5.35,"sn":-0.53},{"mk":5.38,"sn":-0.55},{"mk":5.41,"sn":-0.57},{"mk":5.36,"sn":-0.59},{"mk":5.39,"sn":-0.61},{"mk":5.37,"sn":-0.63},{"mk":5.40,"sn":-0.65},{"mk":5.38,"sn":-0.67},{"mk":5.35,"sn":-0.69},{"mk":5.39,"sn":-0.71},{"mk":5.37,"sn":-0.73},{"mk":5.40,"sn":-0.75},{"mk":5.38,"sn":-0.77},{"mk":5.36,"sn":-0.79},{"mk":5.39,"sn":-0.81},{"mk":5.37,"sn":-0.83},{"mk":5.40,"sn":-0.85},{"mk":5.38,"sn":-0.87},{"mk":5.36,"sn":-0.89},{"mk":5.39,"sn":-0.91},{"mk":5.37,"sn":-0.93},{"mk":5.40,"sn":-0.95},{"mk":5.38,"sn":-0.97},{"mk":5.37,"sn":-0.99},{"mk":5.42,"sn":-0.60},{"mk":5.34,"sn":-0.72},{"mk":5.43,"sn":-0.80},{"mk":5.33,"sn":-0.56},{"mk":5.42,"sn":-0.90},{"mk":5.34,"sn":-0.84},
    {"mk":5.31,"sn":-0.46},{"mk":5.45,"sn":-0.50},{"mk":5.31,"sn":-0.54},{"mk":5.45,"sn":-0.58},{"mk":5.31,"sn":-0.62},{"mk":5.45,"sn":-0.66},{"mk":5.31,"sn":-0.70},{"mk":5.45,"sn":-0.74},{"mk":5.31,"sn":-0.78},{"mk":5.45,"sn":-0.82},{"mk":5.31,"sn":-0.86},{"mk":5.45,"sn":-0.88},{"mk":5.31,"sn":-0.92},{"mk":5.45,"sn":-0.94},{"mk":5.32,"sn":-0.97},{"mk":5.44,"sn":-0.98},{"mk":5.38,"sn":-0.52},{"mk":5.38,"sn":-0.64},{"mk":5.38,"sn":-0.76},{"mk":5.38,"sn":-0.88},{"mk":5.38,"sn":-0.94},
    {"mk":5.35,"sn":-0.44},{"mk":5.41,"sn":-0.48},{"mk":5.35,"sn":-0.52},{"mk":5.41,"sn":-0.56},{"mk":5.35,"sn":-0.60},{"mk":5.41,"sn":-0.64},{"mk":5.35,"sn":-0.68},{"mk":5.41,"sn":-0.72},{"mk":5.35,"sn":-0.76},{"mk":5.41,"sn":-0.80},{"mk":5.35,"sn":-0.84},{"mk":5.41,"sn":-0.88},{"mk":5.35,"sn":-0.92},{"mk":5.41,"sn":-0.96},
    {"mk":5.50,"sn":-0.40},{"mk":5.60,"sn":-0.25},{"mk":5.70,"sn":-0.50},{"mk":5.80,"sn":-0.15},{"mk":5.90,"sn":-0.35},{"mk":6.00,"sn":-0.60},{"mk":5.65,"sn":0.02},{"mk":5.55,"sn":-0.10},{"mk":5.95,"sn":-0.80},
    {"mk":6.39,"sn":-0.30},{"mk":6.37,"sn":-0.33},{"mk":6.41,"sn":-0.36},{"mk":6.38,"sn":-0.39},{"mk":6.40,"sn":-0.42},{"mk":6.36,"sn":-0.45},{"mk":6.39,"sn":-0.48},{"mk":6.42,"sn":-0.51},{"mk":6.37,"sn":-0.54},{"mk":6.40,"sn":-0.57},{"mk":6.38,"sn":-0.60},{"mk":6.41,"sn":-0.63},{"mk":6.39,"sn":-0.66},{"mk":6.36,"sn":-0.69},{"mk":6.40,"sn":-0.72},{"mk":6.38,"sn":-0.75},{"mk":6.41,"sn":-0.78},{"mk":6.39,"sn":-0.81},{"mk":6.37,"sn":-0.84},{"mk":6.40,"sn":-0.87},{"mk":6.38,"sn":-0.90},{"mk":6.39,"sn":-0.94},
    {"mk":6.32,"sn":-0.32},{"mk":6.46,"sn":-0.38},{"mk":6.32,"sn":-0.44},{"mk":6.46,"sn":-0.50},{"mk":6.32,"sn":-0.56},{"mk":6.46,"sn":-0.62},{"mk":6.32,"sn":-0.68},{"mk":6.46,"sn":-0.74},{"mk":6.32,"sn":-0.80},{"mk":6.46,"sn":-0.86},{"mk":6.33,"sn":-0.91},{"mk":6.39,"sn":-0.52},{"mk":6.39,"sn":-0.64},
    {"mk":6.35,"sn":-0.40},{"mk":6.43,"sn":-0.46},{"mk":6.35,"sn":-0.58},{"mk":6.43,"sn":-0.70},{"mk":6.35,"sn":-0.82},{"mk":6.43,"sn":-0.88},
    {"mk":6.65,"sn":-0.15},{"mk":6.72,"sn":-0.20},{"mk":6.80,"sn":-0.12},{"mk":6.68,"sn":-0.28},{"mk":6.76,"sn":-0.33},{"mk":6.84,"sn":-0.25},{"mk":6.70,"sn":-0.40},{"mk":6.78,"sn":-0.45},{"mk":6.86,"sn":-0.38},{"mk":6.66,"sn":-0.52},{"mk":6.74,"sn":-0.57},{"mk":6.82,"sn":-0.50},{"mk":6.90,"sn":-0.44},{"mk":6.95,"sn":-0.30},{"mk":6.60,"sn":-0.62},{"mk":6.68,"sn":-0.70},{"mk":6.76,"sn":-0.65},{"mk":6.62,"sn":-0.36},{"mk":6.58,"sn":-0.48},{"mk":6.70,"sn":-0.08},{"mk":6.92,"sn":-0.18},{"mk":6.88,"sn":-0.60},{"mk":6.64,"sn":-0.78},{"mk":6.72,"sn":-0.85},{"mk":6.60,"sn":-0.90},
    {"mk":6.62,"sn":-0.22},{"mk":6.70,"sn":-0.30},{"mk":6.78,"sn":-0.38},{"mk":6.66,"sn":-0.44},{"mk":6.74,"sn":-0.50},{"mk":6.82,"sn":-0.32},{"mk":6.90,"sn":-0.25},{"mk":6.86,"sn":-0.52},{"mk":6.70,"sn":-0.62},{"mk":6.78,"sn":-0.58},{"mk":6.64,"sn":-0.68},{"mk":6.74,"sn":-0.42},{"mk":6.80,"sn":-0.20},{"mk":6.66,"sn":-0.10},{"mk":6.88,"sn":-0.12},
    {"mk":7.00,"sn":-0.22},{"mk":7.05,"sn":-0.40},{"mk":7.10,"sn":-0.10},{"mk":7.15,"sn":-0.55},{"mk":7.20,"sn":-0.30},{"mk":7.30,"sn":-0.48},{"mk":7.40,"sn":-0.20},{"mk":7.50,"sn":-0.65},{"mk":7.60,"sn":-0.35},{"mk":7.00,"sn":0.05},{"mk":7.25,"sn":0.10},{"mk":7.05,"sn":-0.72},{"mk":7.35,"sn":-0.05},{"mk":6.98,"sn":-0.50},{"mk":7.12,"sn":-0.25},
    {"mk":7.85,"sn":-0.42},{"mk":8.00,"sn":-0.15},{"mk":8.20,"sn":0.05},{"mk":7.90,"sn":0.15},{"mk":8.10,"sn":-0.60},{"mk":8.40,"sn":-0.30},
    {"mk":8.38,"sn":0.62},{"mk":8.24,"sn":0.42},{"mk":8.40,"sn":0.36},{"mk":8.83,"sn":0.33},{"mk":9.04,"sn":0.79},{"mk":9.64,"sn":0.65},{"mk":9.98,"sn":0.67},{"mk":9.19,"sn":0.49},{"mk":12.50,"sn":0.41},{"mk":10.60,"sn":-0.17},{"mk":9.58,"sn":-0.02},{"mk":8.83,"sn":-0.45},{"mk":9.19,"sn":0.20},{"mk":9.14,"sn":0.12},{"mk":11.84,"sn":1.12},{"mk":8.60,"sn":0.10},{"mk":8.70,"sn":-0.20},
    {"mk":0.35,"sn":0.18},{"mk":0.55,"sn":0.05},{"mk":0.75,"sn":0.10},{"mk":1.00,"sn":0.02},{"mk":1.20,"sn":0.08},{"mk":1.40,"sn":0.12},{"mk":1.70,"sn":0.06},{"mk":1.95,"sn":0.15},{"mk":2.15,"sn":0.04},{"mk":2.35,"sn":0.20},{"mk":2.55,"sn":0.09},{"mk":2.75,"sn":0.25},{"mk":2.95,"sn":0.13},{"mk":3.15,"sn":0.03},{"mk":3.30,"sn":0.18},{"mk":3.50,"sn":0.07},{"mk":3.70,"sn":0.22},{"mk":3.90,"sn":0.11},{"mk":4.10,"sn":0.27},{"mk":4.30,"sn":0.05},{"mk":4.50,"sn":0.16},{"mk":4.70,"sn":0.02},{"mk":4.90,"sn":0.20},{"mk":5.10,"sn":0.09},{"mk":5.35,"sn":0.24},{"mk":5.55,"sn":0.14},{"mk":5.75,"sn":0.28},{"mk":5.95,"sn":0.06},{"mk":6.15,"sn":0.19},{"mk":6.35,"sn":0.11},{"mk":6.55,"sn":0.03},{"mk":6.75,"sn":0.23},{"mk":6.95,"sn":0.15},{"mk":7.15,"sn":0.08},{"mk":7.45,"sn":0.18},{"mk":7.70,"sn":0.28},{"mk":7.95,"sn":0.12},{"mk":8.15,"sn":0.22},
    {"mk":0.45,"sn":-0.10},{"mk":0.65,"sn":-0.05},{"mk":1.25,"sn":-0.15},{"mk":1.50,"sn":-0.25},{"mk":2.00,"sn":-0.08},{"mk":2.25,"sn":-0.22},{"mk":2.65,"sn":-0.12},{"mk":3.05,"sn":-0.28},{"mk":3.40,"sn":-0.05},{"mk":3.75,"sn":-0.18},{"mk":4.45,"sn":-0.08},{"mk":4.80,"sn":-0.15},{"mk":5.30,"sn":-0.05},{"mk":5.45,"sn":-0.20},{"mk":6.05,"sn":-0.12},{"mk":6.25,"sn":-0.02},{"mk":6.50,"sn":-0.20},{"mk":7.60,"sn":-0.10},{"mk":7.80,"sn":0.00},{"mk":0.30,"sn":-0.05},{"mk":1.85,"sn":-0.32},{"mk":2.90,"sn":-0.38},{"mk":4.60,"sn":-0.40},{"mk":5.85,"sn":-0.45},
    {"mk":2.41,"sn":0.24},{"mk":3.81,"sn":0.29},{"mk":5.85,"sn":0.33},{"mk":5.60,"sn":0.29},{"mk":6.52,"sn":0.29},{"mk":6.89,"sn":0.28},{"mk":7.64,"sn":0.29},{"mk":8.12,"sn":0.24},{"mk":4.14,"sn":0.26},{"mk":0.67,"sn":0.18}
  ]
},
"concat": [
  {
    "width": 743, "height": 104,
    "data": {"name": "histx"},
    "layer": [
      {"mark": {"type": "rect", "fill": "#CD5C5C", "fillOpacity": 0.4, "stroke": "white", "strokeWidth": 1},
       "encoding": {
         "x": {"field": "lo", "type": "quantitative", "scale": {"domain": [-10, 15], "nice": false, "zero": false}, "axis": {"labels": false, "title": null, "ticks": false, "domainWidth": 3}},
         "x2": {"field": "hi"},
         "y": {"field": "n", "type": "quantitative", "scale": {"domain": [0, 312], "nice": false}, "axis": null},
         "y2": {"datum": 0}
       }},
      {"data": {"name": "ann"}, "mark": {"type": "rule", "color": "#999999", "strokeWidth": 1.5}, "encoding": {"x": {"datum": 0}}}
    ]
  },
  {"width": 98, "height": 104, "data": {"name": "ann"}, "mark": {"type": "point", "opacity": 0}},
  {
    "width": 743, "height": 605,
    "title": {"text": "MKPRF", "orient": "bottom", "anchor": "middle", "font": "DejaVu Serif", "fontStyle": "italic", "fontWeight": "normal", "fontSize": 37, "color": "#262626", "offset": -1, "baseline": "alphabetic", "dx": 18},
    "layer": [
      {"data": {"name": "points"},
       "mark": {"type": "circle", "size": 130, "color": "#CD5C5C", "opacity": 0.33, "clip": true},
       "encoding": {
         "x": {"field": "mk", "type": "quantitative", "scale": {"domain": [-10, 15], "nice": false, "zero": false},
               "axis": {"values": [-10, -5, 0, 5, 10, 15], "format": "d", "labelPadding": 19, "title": "γ", "titleFont": "DejaVu Serif", "titleFontStyle": "italic", "titleFontWeight": "normal", "titleFontSize": 48, "titleColor": "#262626", "titleX": 299, "titleY": 100, "titleBaseline": "alphabetic", "titleAlign": "center"}},
         "y": {"field": "sn", "type": "quantitative", "scale": {"domain": [-1.5, 1.5], "nice": false, "zero": false},
               "axis": {"values": [-1.5, -1, -0.5, 0, 0.5, 1, 1.5], "format": ".1f", "labelPadding": 18, "title": "γ", "titleFont": "DejaVu Serif", "titleFontStyle": "italic", "titleFontWeight": "normal", "titleFontSize": 48, "titleColor": "#262626", "titleX": -117, "titleY": 385, "titleAngle": 270, "titleBaseline": "alphabetic", "titleAlign": "center"}}
       }},
      {"data": {"name": "fit"},
       "mark": {"type": "line", "color": "#CD5C5C", "strokeWidth": 9, "opacity": 0.9, "strokeCap": "butt"},
       "encoding": {"x": {"field": "mk", "type": "quantitative"}, "y": {"field": "fit", "type": "quantitative"}}},
      {"data": {"name": "ann"}, "mark": {"type": "rule", "color": "#999999", "strokeWidth": 1.5}, "encoding": {"x": {"datum": 0}}},
      {"data": {"name": "ann"}, "mark": {"type": "rule", "color": "#999999", "strokeWidth": 1.5}, "encoding": {"y": {"datum": 0}}},
      {"data": {"name": "ann"}, "mark": {"type": "text", "align": "right", "baseline": "middle", "fontSize": 31, "font": "DejaVu Sans", "color": "#262626"},
       "encoding": {"x": {"datum": 13.96}, "y": {"datum": 1.25}, "text": {"field": "label"}}}
    ]
  },
  {
    "width": 98, "height": 605,
    "layer": [
      {"data": {"name": "histy"},
       "mark": {"type": "rect", "fill": "#CD5C5C", "fillOpacity": 0.4, "stroke": "white", "strokeWidth": 1, "clip": true},
       "encoding": {
         "y": {"field": "lo", "type": "quantitative", "scale": {"domain": [-1.5, 1.5], "nice": false, "zero": false}, "axis": {"labels": false, "title": null, "ticks": false, "domainWidth": 3}},
         "y2": {"field": "hi"},
         "x": {"field": "n", "type": "quantitative", "scale": {"domain": [0, 980], "nice": false}, "axis": null},
         "x2": {"datum": 0}
       }},
      {"data": {"name": "ann"}, "mark": {"type": "rule", "color": "#999999", "strokeWidth": 1.5}, "encoding": {"y": {"datum": 0}}}
    ]
  }
]
}
